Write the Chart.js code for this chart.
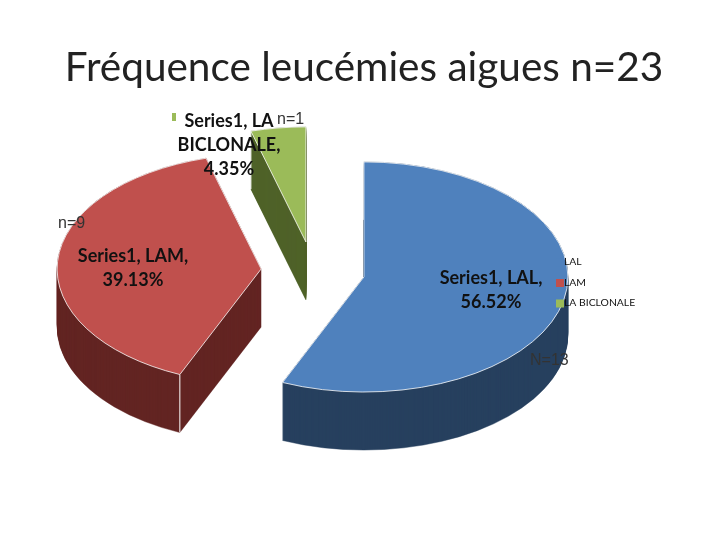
<!DOCTYPE html>
<html>
<head>
<meta charset="utf-8">
<script src="https://cdn.jsdelivr.net/npm/chart.js@4"></script>
<style>
  body { margin: 0; background: #fff; }
</style>
</head>
<body>
<canvas id="grafico" width="720" height="540"></canvas>
<script>
const categorias = ['LAL', 'LAM', 'LA BICLONALE'];
const valores = [13, 9, 1];
const pourcentages = ['56.52%', '39.13%', '4.35%'];
const annotations = ['N=13', 'n=9', 'n=1'];
const couleurs = ['#4F81BD', '#C0504D', '#9BBB59'];
const couleursCote = ['#27405F', '#632523', '#4F6228'];

const centreX = 313, centreY = 271;
const aplati = 0.564;
const epaisseur = 58;
const ecart = 52;
const police = 'Lato, "Open Sans", sans-serif';

// Perspective : on écrase le camembert et on écarte chaque part
function appliqueVue(ctx, arc) {
  const mid = (arc.startAngle + arc.endAngle) / 2;
  ctx.translate(centreX, centreY);
  ctx.scale(1, aplati);
  ctx.translate(-arc.x + Math.cos(mid) * ecart, -arc.y + Math.sin(mid) * ecart);
}

const vue3d = {
  id: 'vue3d',
  beforeDatasetDraw(chart) {
    const ctx = chart.ctx;
    const arcs = chart.getDatasetMeta(0).data;

    // Épaisseur dessous
    arcs.forEach((arc, i) => {
      ctx.save();
      ctx.fillStyle = couleursCote[i];
      ctx.strokeStyle = couleursCote[i];
      ctx.lineWidth = 0.6;
      for (let d = epaisseur; d >= 0; d--) {
        ctx.save();
        ctx.translate(0, d);
        appliqueVue(ctx, arc);
        ctx.beginPath();
        ctx.moveTo(arc.x, arc.y);
        ctx.arc(arc.x, arc.y, arc.outerRadius, arc.startAngle, arc.endAngle);
        ctx.closePath();
        ctx.fill();
        ctx.stroke();
        ctx.restore();
      }
      // petit trait blanc sur l'arête verticale
      const mid = (arc.startAngle + arc.endAngle) / 2;
      const px = centreX + Math.cos(mid) * ecart + Math.cos(arc.startAngle) * arc.outerRadius;
      const py = centreY + (Math.sin(mid) * ecart + Math.sin(arc.startAngle) * arc.outerRadius) * aplati;
      ctx.strokeStyle = '#fff';
      ctx.lineWidth = 1;
      ctx.beginPath();
      ctx.moveTo(px, py);
      ctx.lineTo(px, py + epaisseur);
      ctx.stroke();
      ctx.restore();
    });

    // Faces du dessus
    arcs.forEach(arc => {
      ctx.save();
      appliqueVue(ctx, arc);
      arc.draw(ctx);
      ctx.restore();
    });
    return false;
  },
  afterDatasetsDraw(chart) {
    const ctx = chart.ctx;
    ctx.save();
    ctx.textBaseline = 'middle';

    // Étiquettes des parts
    ctx.fillStyle = '#111';
    ctx.font = 'bold 18px ' + police;
    ctx.textAlign = 'center';
    ctx.fillText('Series1, ' + categorias[0] + ',', 491, 278);
    ctx.fillText(pourcentages[0], 491, 302);
    ctx.fillText('Series1, ' + categorias[1] + ',', 133, 256);
    ctx.fillText(pourcentages[1], 133, 280);
    ctx.fillText('Series1, LA', 229, 121);
    ctx.fillText('BICLONALE,', 229, 145);
    ctx.fillText(pourcentages[2], 229, 169);
    ctx.fillStyle = couleurs[2];
    ctx.fillRect(172, 113, 4, 8);

    // Légende
    ctx.font = '10.4px ' + police;
    ctx.textAlign = 'left';
    categorias.forEach((nom, i) => {
      const y = 262 + i * 20.5;
      ctx.fillStyle = couleurs[i];
      ctx.fillRect(556, y - 3.5, 8, 8);
      ctx.fillStyle = '#111';
      ctx.fillText(nom, 564, y);
    });

    // Annotations n=
    ctx.font = '16px "Liberation Sans", sans-serif';
    ctx.fillStyle = '#333';
    ctx.fillText(annotations[0], 530, 361);
    ctx.fillText(annotations[1], 58, 224);
    ctx.fillText(annotations[2], 277, 120);
    ctx.restore();
  }
};

new Chart(document.getElementById('grafico'), {
  type: 'pie',
  data: {
    labels: categorias,
    datasets: [{
      data: valores,
      backgroundColor: couleurs,
      borderColor: '#fff',
      borderWidth: 1,
      clip: false
    }]
  },
  options: {
    responsive: false,
    animation: false,
    radius: 204,
    layout: { padding: { left: 8 } },
    plugins: {
      legend: { display: false },
      tooltip: { enabled: false },
      title: {
        display: true,
        text: 'Fréquence leucémies aigues n=23',
        color: '#222',
        font: { family: police, size: 40.5, weight: 'normal' },
        padding: { top: 44, bottom: 0 }
      }
    }
  },
  plugins: [vue3d]
});
</script>
</body>
</html>
